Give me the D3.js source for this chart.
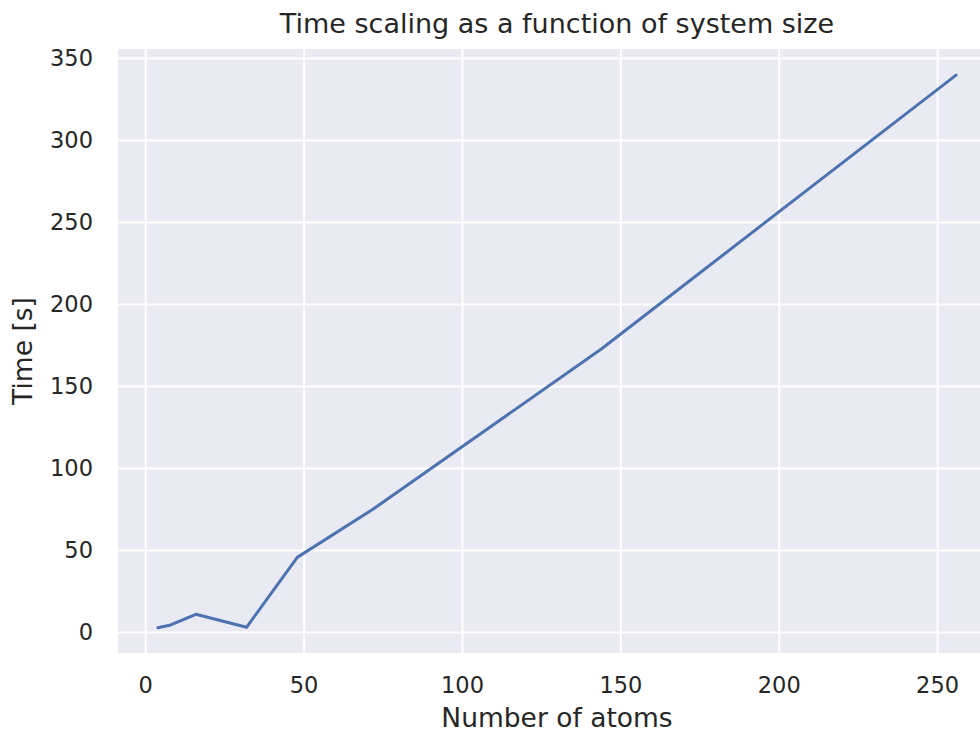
<!DOCTYPE html>
<html><head><meta charset="utf-8">
<script src="https://cdn.jsdelivr.net/npm/d3@7"></script>
<style>
html,body{margin:0;padding:0;background:#fff;}
svg{display:block;font-family:"DejaVu Sans",sans-serif;}
</style></head>
<body>
<svg id="chart" width="980" height="733"></svg>
<script>
const atoms = [4, 8, 16, 32, 48, 72, 144, 256];
const times = [2.6, 4.3, 10.8, 2.9, 45.5, 75, 172.6, 339.6];
const xTicks = [0, 50, 100, 150, 200, 250];
const yTicks = [0, 50, 100, 150, 200, 250, 300, 350];
const title = "Time scaling as a function of system size";
const xLabel = "Number of atoms";
const yLabel = "Time [s]";

const svg = d3.select("#chart");
const L = 118, T = 49, R = 996, B = 653;
const x = d3.scaleLinear().domain([-8.6, 268.6]).range([L, R]);
const y = d3.scaleLinear().domain([-12.8, 355.5]).range([B, T]);

svg.append("rect").attr("x", L).attr("y", T).attr("width", R - L).attr("height", B - T).attr("fill", "#EAEAF2");

const gx = svg.append("g").attr("transform", `translate(0,${B})`)
  .call(d3.axisBottom(x).tickValues(xTicks).tickSize(-(B - T)).tickPadding(24).tickFormat(d3.format("d")));
const gy = svg.append("g").attr("transform", `translate(${L},0)`)
  .call(d3.axisLeft(y).tickValues(yTicks).tickSize(-(R - L)).tickPadding(25).tickFormat(d3.format("d")));
[gx, gy].forEach(g => {
  g.select(".domain").remove();
  g.selectAll(".tick line").attr("stroke", "#fff").attr("stroke-width", 2);
  g.selectAll(".tick text").attr("fill", "#262626").style("font-size", "22.5px").style("font-family", "DejaVu Sans");
});

const line = d3.line().x((d, i) => x(atoms[i])).y(d => y(d));
svg.append("path").datum(times).attr("d", line).attr("fill", "none")
  .attr("stroke", "#4C72B0").attr("stroke-width", 3).attr("stroke-linecap", "round").attr("stroke-linejoin", "round");

svg.append("text").attr("x", (L + R) / 2).attr("y", 33).attr("text-anchor", "middle")
  .attr("fill", "#262626").style("font-size", "27px").text(title);
svg.append("text").attr("x", (L + R) / 2).attr("y", 727).attr("text-anchor", "middle")
  .attr("fill", "#262626").style("font-size", "26.5px").text(xLabel);
svg.append("text").attr("transform", `translate(32,${(T + B) / 2}) rotate(-90)`).attr("text-anchor", "middle")
  .attr("fill", "#262626").style("font-size", "26.5px").text(yLabel);
</script>
</body></html>
